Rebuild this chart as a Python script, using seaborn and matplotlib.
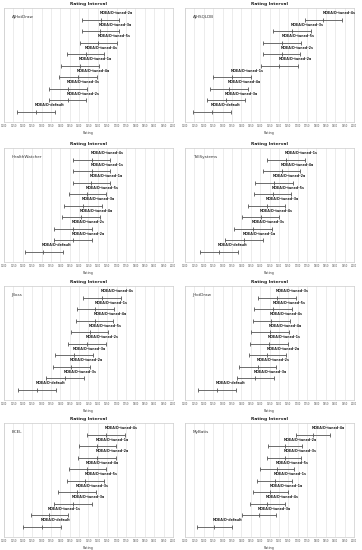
import matplotlib
matplotlib.use('Agg')
import matplotlib.pyplot as plt
import seaborn as sns
import pandas as pd

# projects (panel order: row by row, left to right)
projects = ['AJHotDraw', 'AJHSQLDB', 'HealthWatcher', 'TollSystems',
            'JBoss', 'JHotDraw', 'BCEL', 'MyBatis']

# configuration labels per panel, top to bottom
configs = {
    'AJHotDraw':     ['tuned-2a', 'tuned-3a', 'tuned-5s', 'tuned-4s', 'tuned-1a', 'tuned-4a', 'tuned-3s', 'tuned-2s', 'default'],
    'AJHSQLDB':      ['tuned-4s', 'tuned-3s', 'tuned-5s', 'tuned-2s', 'tuned-2a', 'tuned-1s', 'tuned-4a', 'tuned-3a', 'default'],
    'HealthWatcher': ['tuned-4s', 'tuned-1s', 'tuned-1a', 'tuned-5s', 'tuned-3a', 'tuned-4a', 'tuned-2s', 'tuned-2a', 'default'],
    'TollSystems':   ['tuned-1s', 'tuned-4a', 'tuned-2a', 'tuned-5s', 'tuned-3a', 'tuned-4s', 'tuned-3s', 'tuned-1a', 'default'],
    'JBoss':         ['tuned-4s', 'tuned-1s', 'tuned-4a', 'tuned-5s', 'tuned-2s', 'tuned-3a', 'tuned-2a', 'tuned-3s', 'default'],
    'JHotDraw':      ['tuned-3s', 'tuned-5s', 'tuned-4s', 'tuned-4a', 'tuned-1s', 'tuned-2a', 'tuned-2s', 'tuned-3a', 'default'],
    'BCEL':          ['tuned-4s', 'tuned-1a', 'tuned-2a', 'tuned-4a', 'tuned-5s', 'tuned-3s', 'tuned-3a', 'tuned-1s', 'default'],
    'MyBatis':       ['tuned-4a', 'tuned-2a', 'tuned-3s', 'tuned-5s', 'tuned-1s', 'tuned-1a', 'tuned-4s', 'tuned-3a', 'default'],
}

# rating intervals (lower, rating, upper)
lower = {
    'AJHotDraw':     [1516, 1513, 1504, 1435, 1405, 1394, 1341, 1339, 1169],
    'AJHSQLDB':      [1738, 1571, 1518, 1516, 1504, 1251, 1235, 1219, 1144],
    'HealthWatcher': [1465, 1465, 1465, 1444, 1421, 1410, 1366, 1366, 1210],
    'TollSystems':   [1539, 1515, 1474, 1465, 1437, 1403, 1362, 1314, 1181],
    'JBoss':         [1522, 1488, 1483, 1457, 1442, 1373, 1359, 1325, 1176],
    'JHotDraw':      [1490, 1470, 1460, 1453, 1447, 1440, 1387, 1375, 1171],
    'BCEL':          [1543, 1497, 1493, 1444, 1435, 1389, 1366, 1242, 1203],
    'MyBatis':       [1690, 1543, 1538, 1497, 1484, 1463, 1445, 1401, 1166],
}
rating = {
    'AJHotDraw':     [1616, 1610, 1603, 1536, 1506, 1495, 1442, 1440, 1270],
    'AJHSQLDB':      [1837, 1670, 1619, 1614, 1603, 1350, 1336, 1320, 1245],
    'HealthWatcher': [1566, 1566, 1564, 1543, 1522, 1511, 1469, 1467, 1309],
    'TollSystems':   [1639, 1614, 1575, 1566, 1536, 1504, 1463, 1415, 1282],
    'JBoss':         [1623, 1587, 1582, 1557, 1543, 1472, 1458, 1426, 1275],
    'JHotDraw':      [1591, 1571, 1559, 1554, 1546, 1539, 1488, 1474, 1270],
    'BCEL':          [1642, 1596, 1594, 1543, 1534, 1490, 1467, 1341, 1302],
    'MyBatis':       [1780, 1633, 1630, 1589, 1577, 1555, 1538, 1493, 1256],
}
upper = {
    'AJHotDraw':     [1713, 1711, 1702, 1635, 1607, 1594, 1543, 1539, 1369],
    'AJHSQLDB':      [1937, 1770, 1720, 1713, 1702, 1451, 1435, 1419, 1346],
    'HealthWatcher': [1665, 1665, 1665, 1644, 1621, 1610, 1570, 1568, 1412],
    'TollSystems':   [1740, 1713, 1674, 1665, 1635, 1603, 1564, 1516, 1383],
    'JBoss':         [1722, 1686, 1681, 1656, 1642, 1573, 1557, 1525, 1376],
    'JHotDraw':      [1690, 1670, 1660, 1653, 1646, 1639, 1587, 1575, 1371],
    'BCEL':          [1743, 1695, 1694, 1644, 1635, 1589, 1566, 1442, 1403],
    'MyBatis':       [1871, 1724, 1720, 1681, 1669, 1646, 1630, 1585, 1348],
}

x_ticks = list(range(1100, 2001, 50))

sns.set_theme(style='white')
plt.rcParams['font.family'] = ['DejaVu Sans']

W, H = 362, 550
fig = plt.figure(figsize=(W / 100, H / 100), dpi=100)

tops = [8, 148, 286, 423]
lefts = [4, 185]
box_w, box_h = 169, 114

for i, proj in enumerate(projects):
    r, c = divmod(i, 2)
    ax = fig.add_axes([lefts[c] / W, 1 - (tops[r] + box_h) / H, box_w / W, box_h / H])

    df = pd.DataFrame({
        'config': ['MOEA/D-' + s for s in configs[proj]],
        'lo': lower[proj], 'mid': rating[proj], 'hi': upper[proj],
    })
    df['row'] = range(len(df))

    ax.errorbar(df['mid'], df['row'],
                xerr=[df['mid'] - df['lo'], df['hi'] - df['mid']],
                fmt='none', ecolor='#555555', elinewidth=0.6,
                capsize=1.6, capthick=0.6)
    sns.scatterplot(data=df, x='mid', y='row', marker='|', s=6,
                    color='#555555', linewidth=0.6, ax=ax, legend=False)
    for _, row in df.iterrows():
        ax.text(row['mid'] - 6, row['row'] - 0.38, row['config'],
                fontsize=2.4, fontweight='bold', ha='left', va='bottom',
                color='#222222')

    ax.set_xlim(1100, 2000)
    ax.set_ylim(8.9, -1.0)
    ax.set_xticks(x_ticks)
    ax.set_xticklabels([str(t) for t in x_ticks], fontsize=1.8, color='#555555')
    ax.set_yticks([])
    ax.tick_params(axis='x', length=0, pad=1.5)
    ax.grid(axis='x', color='#dddddd', linewidth=0.4)
    ax.set_axisbelow(True)
    for sp in ax.spines.values():
        sp.set_color('#cccccc')
        sp.set_linewidth(0.5)

    ax.set_xlabel('Rating', fontsize=2.4, color='#444444', labelpad=2)
    ax.set_ylabel('')
    ax.set_title('Rating Interval', fontsize=3.2, fontweight='bold', pad=2,
                 color='#222222')
    ax.text(0.045, 0.92, proj, transform=ax.transAxes, fontsize=3.0,
            ha='left', va='center', color='#333333')

fig.savefig('out.png', dpi=100)
